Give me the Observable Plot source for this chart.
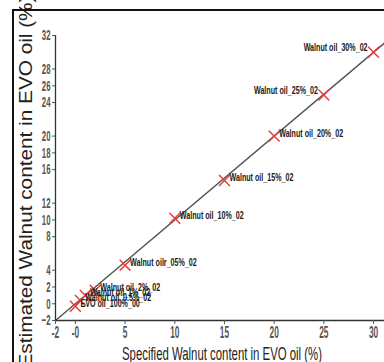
<!DOCTYPE html>
<html>
<head>
<meta charset="utf-8">
<script src="https://cdn.jsdelivr.net/npm/d3@7"></script>
<script src="https://cdn.jsdelivr.net/npm/@observablehq/plot@0.6"></script>
<style>
  html, body { margin: 0; padding: 0; background: #fff; }
  #wrap { position: relative; width: 384px; height: 362px; overflow: hidden; }
  #border { position: absolute; left: 12px; top: 9px; width: 380px; height: 360px;
            border-top: 2px solid #111; border-left: 2px solid #111; pointer-events: none; }
</style>
</head>
<body>
<div id="wrap"><div id="border"></div></div>
<script>
// Data
const sampleNames = [
  "EVO oil_100%_00", "Walnut oil_0.5%_02", "Walnut oil_1%_02", "Walnut oil_2%_02",
  "Walnut oilr_05%_02", "Walnut oil_10%_02", "Walnut oil_15%_02", "Walnut oil_20%_02",
  "Walnut oil_25%_02", "Walnut oil_30%_02"
];
const specified = [0, 0.5, 1, 2, 5, 10, 15, 20, 25, 30];
const estimated = [-0.3, 0.4, 1.0, 1.6, 4.6, 10.2, 14.7, 20.0, 24.9, 30.0];
const labelSide = ["right","right","right","right","right","right","right","right","left","left"];
const xTicks = [-2, 0, 5, 10, 15, 20, 25, 30];
const xTickLabels = ["-2", "-0", "5", "10", "15", "20", "25", "30"];
const yTicks = [-2, 0, 2, 4, 8, 10, 12, 16, 18, 20, 24, 26, 28, 32];
const xDomain = [-2, 31.1];
const yDomain = [-2, 32];
const xTitle = "Specified Walnut content in EVO oil (%)";
const yTitle = "Estimated Walnut content in EVO oil (%)";

const points = specified.map((s, i) => ({x: s, y: estimated[i], name: sampleNames[i], side: labelSide[i]}));
const fit = xDomain.map(v => ({x: v, y: v}));

const sans = "'Liberation Sans', Arial, sans-serif";

const chart = Plot.plot({
  width: 384,
  height: 362,
  marginLeft: 55,
  marginRight: 0,
  marginTop: 35,
  marginBottom: 42,
  style: {fontFamily: sans, background: "transparent", overflow: "visible"},
  x: {domain: xDomain},
  y: {domain: yDomain},
  marks: [
    Plot.line(fit, {x: "x", y: "y", stroke: "#555", strokeWidth: 1.4, clip: true}),
    Plot.ruleX([xDomain[0]], {stroke: "#333", strokeWidth: 1.3}),
    Plot.ruleY([yDomain[0]], {stroke: "#333", strokeWidth: 1.3}),
    Plot.axisX({ticks: xTicks, tickFormat: (d) => xTickLabels[xTicks.indexOf(d)], tickSize: 4,
      fontSize: 16, fontWeight: "bold", color: "#555", label: null, tickPadding: 2}),
    Plot.axisY({ticks: yTicks, tickSize: 3, fontSize: 15, fontWeight: "bold", color: "#555",
      label: null, tickPadding: 2}),
    Plot.dot(points, {x: "x", y: "y", symbol: "times", r: 5, stroke: "#ee3b3b", strokeWidth: 1.5}),
    Plot.text(points.filter(d => d.side === "right"), {x: "x", y: "y", text: "name", textAnchor: "start",
      dx: 5, dy: -3, fontSize: 11.5, fontWeight: "bold", fill: "#18201a"}),
    Plot.text(points.filter(d => d.side === "left"), {x: "x", y: "y", text: "name", textAnchor: "end",
      dx: -6, dy: -5, fontSize: 11.5, fontWeight: "bold", fill: "#18201a"}),
    Plot.text([xTitle], {frameAnchor: "bottom", textAnchor: "middle", text: d => d, dy: 39, dx: 2,
      fontSize: 19, fill: "#222"}),
    Plot.text([yTitle], {frameAnchor: "left", textAnchor: "middle", text: d => d, rotate: -90,
      dx: -29.5, dy: 3.5, fontSize: 19, fill: "#222"})
  ]
});
const wrap = document.getElementById("wrap");
wrap.insertBefore(chart, document.getElementById("border"));

// Condense glyphs to mimic the narrow typeface of the original
chart.querySelectorAll("text").forEach(t => {
  const s = t.textContent;
  let target;
  if (s === xTitle) target = 200;
  else if (s === yTitle) target = 372;
  else if (sampleNames.includes(s)) target = t.getComputedTextLength() * 0.62;
  else target = t.getComputedTextLength() * 0.52;
  t.setAttribute("textLength", target);
  t.setAttribute("lengthAdjust", "spacingAndGlyphs");
});
</script>
</body>
</html>
